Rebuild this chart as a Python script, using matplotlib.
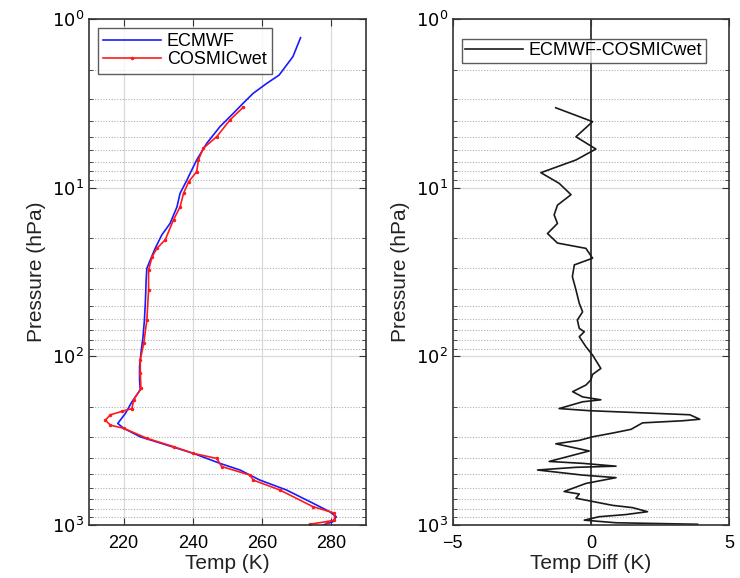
import matplotlib.pyplot as plt

plt.rcParams['font.family'] = ['Liberation Sans', 'DejaVu Sans']

# profiles (pressure hPa, temperature K)
ecmwf_p = [1.29, 1.67, 2.15, 2.41, 2.76, 3.16, 3.62, 4.35, 5.46, 6.85, 8.22, 9.0, 10.8,
           13.0, 16.3, 19.1, 22.9, 26.8, 30.1, 35.3, 46.4, 60.9, 76.5, 91.7, 115, 138,
           158, 186, 218, 250, 267, 300, 336, 376, 431, 472, 541, 620, 743, 834, 893,
           955, 1000]
ecmwf_t = [271.1, 268.9, 264.9, 261.3, 257.4, 254.5, 251.7, 247.8, 244.0, 241.1, 239.2,
           238.3, 236.3, 235.4, 233.4, 231.0, 229.1, 227.7, 226.7, 226.5, 226.3, 226.0,
           225.6, 225.1, 224.6, 224.6, 224.8, 222.4, 220.5, 218.3, 220.0, 224.8, 232.5,
           240.1, 247.8, 253.6, 259.3, 267.0, 274.7, 279.5, 281.4, 280.5, 277.6]

cosmic_p = [3.34, 3.97, 4.98, 5.84, 6.85, 8.04, 9.2, 10.8, 13.0, 15.5, 20.4, 22.9, 25.7,
            30.8, 40.4, 60.9, 83.9, 105, 125, 155, 181, 204, 212, 222, 239, 256, 267,
            306, 343, 376, 403, 450, 506, 541, 620, 779, 850, 936, 955, 990]
cosmic_t = [254.5, 250.7, 246.9, 243.0, 241.6, 241.1, 238.8, 237.3, 236.3, 234.4, 232.0,
            229.6, 228.2, 227.2, 227.2, 226.7, 225.8, 224.8, 224.8, 225.0, 222.9, 222.4,
            219.5, 216.2, 214.7, 216.2, 220.0, 226.7, 234.4, 240.1, 246.9, 248.3, 256.5,
            257.4, 265.1, 274.7, 280.9, 280.9, 278.6, 273.7]

diff_p = [3.36, 4.06, 4.99, 5.9, 6.85, 8.15, 9.42, 11.0, 12.7, 14.5, 16.3, 18.7, 21.3,
          22.9, 26.2, 28.7, 33.7, 40.4, 48.5, 54.5, 60.9, 68.3, 71.5, 76.5, 87.7, 98.3,
          118, 128, 138, 148, 162, 174, 181, 186, 204, 210, 222, 236, 241, 248, 271,
          285, 300, 315, 330, 364, 420, 431, 448, 455, 472, 506, 524, 567, 633, 655,
          694, 765, 789, 834, 867, 893, 936, 970, 990]
diff_t = [-1.27, 0.06, -0.54, 0.18, -0.54, -1.81, -1.15, -0.72, -1.21, -1.33, -1.21,
          -1.57, -1.21, -0.18, 0.06, -0.60, -0.67, -0.54, -0.42, -0.30, -0.49, -0.42,
          -0.24, -0.42, -0.18, 0.06, 0.36, 0.06, 0.0, -0.18, -0.66, -0.30, 0.36, -0.30,
          -1.15, -0.06, 3.58, 3.94, 3.32, 1.87, 1.45, 0.79, 0.06, -0.42, -1.27, -0.06,
          -1.51, -0.30, 0.91, -0.54, -1.93, -0.30, 0.91, -0.18, -0.97, -0.42, -0.54,
          0.79, 1.51, 2.05, 1.27, 0.30, -0.24, 0.91, 3.86]

fig = plt.figure(figsize=(7.4, 5.78), dpi=100)
ax1 = fig.add_axes([0.1203, 0.0917, 0.3743, 0.8754])
ax2 = fig.add_axes([0.6118, 0.0917, 0.3734, 0.8754])


def style(ax):
    ax.set_yscale('log')
    ax.set_ylim(1000, 1)
    ax.set_yticks([1, 10, 100, 1000])
    ax.set_yticklabels([r'$10^0$', r'$10^1$', r'$10^2$', r'$10^3$'])
    ax.grid(True, which='major', color='#d9d9d9', lw=0.9, ls='-')
    ax.grid(True, which='minor', axis='y', color='#b0b0b0', lw=0.8, ls=(0, (1, 1.5)))
    ax.set_axisbelow(True)
    ax.tick_params(which='both', direction='in', top=True, right=True,
                   labelsize=13, color='#333333')
    ax.tick_params(which='major', length=5)
    ax.tick_params(which='minor', length=3)
    ax.tick_params(axis='x', pad=7)
    for s in ax.spines.values():
        s.set_color('#333333')
        s.set_linewidth(1.2)
    ax.set_ylabel('Pressure (hPa)', fontsize=15, color='#222222')


style(ax1)
ax1.plot(ecmwf_t, ecmwf_p, color='#1a1aff', lw=1.2, label='ECMWF')
ax1.plot(cosmic_t, cosmic_p, color='#ff1a1a', lw=1.2, marker='.', ms=3, label='COSMICwet')
ax1.set_xlim(210, 290)
ax1.set_xticks([220, 240, 260, 280])
ax1.set_xlabel('Temp (K)', fontsize=15, color='#222222', labelpad=2)
leg = ax1.legend(loc='upper left', fontsize=13, fancybox=False, edgecolor='#333333',
                 borderaxespad=0.5, handlelength=3.2, borderpad=0.3, labelspacing=0.05,
                 handletextpad=0.3)
leg.get_frame().set_linewidth(1.0)

style(ax2)
ax2.axvline(0, color='#333333', lw=1.3)
ax2.plot(diff_t, diff_p, color='#1a1a1a', lw=1.2, label='ECMWF-COSMICwet')
ax2.set_xlim(-5, 5)
ax2.set_xticks([-5, 0, 5])
ax2.grid(False, axis='x')
ax2.set_xlabel('Temp Diff (K)', fontsize=15, color='#222222', labelpad=2)
leg2 = ax2.legend(loc='upper left', bbox_to_anchor=(0.02, 0.968), fontsize=13,
                  fancybox=False, edgecolor='#333333', handlelength=3.2, borderpad=0.2,
                  handletextpad=0.3, borderaxespad=0.2)
leg2.get_frame().set_linewidth(1.0)

fig.savefig('out.png', dpi=100)
